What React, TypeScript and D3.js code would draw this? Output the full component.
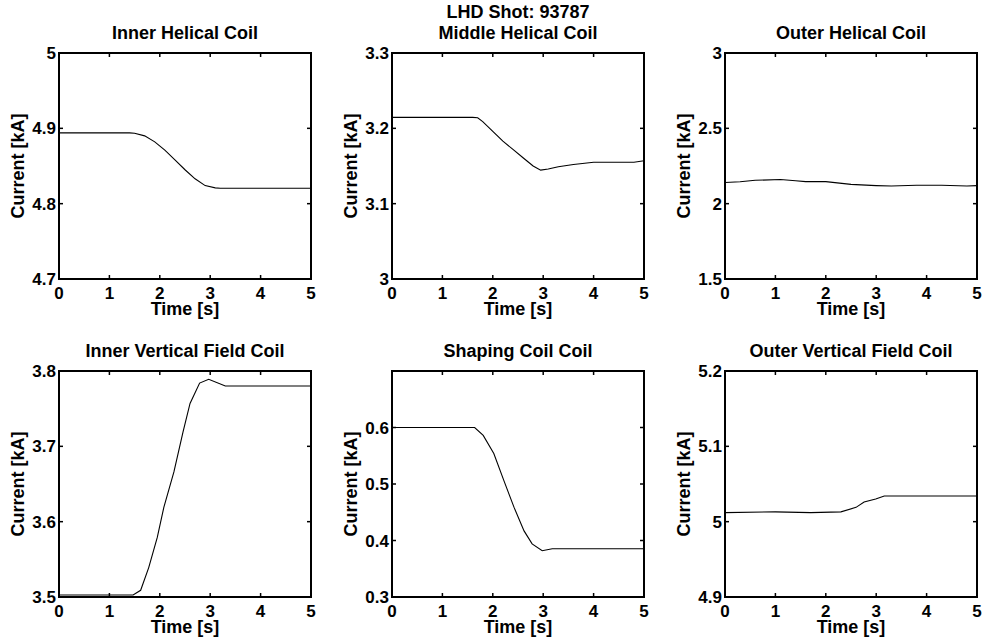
import React from "react"
import * as d3 from "d3"

const suptitle = "LHD Shot: 93787"
const timeTicks = [0, 1, 2, 3, 4, 5]

// Inner Helical Coil
const ihcTime = [0, 1.4, 1.5, 1.7, 1.9, 2.1, 2.3, 2.5, 2.7, 2.9, 3.1, 3.2, 5]
const ihcValues = [4.894, 4.894, 4.8935, 4.89, 4.882, 4.871, 4.858, 4.845, 4.833, 4.824, 4.821, 4.8205, 4.8205]

// Middle Helical Coil
const mhcTime = [0, 1.6, 1.7, 1.8, 2, 2.2, 2.4, 2.6, 2.8, 2.95, 3.1, 3.3, 3.6, 4, 4.5, 4.8, 5]
const mhcValues = [3.2145, 3.2145, 3.214, 3.209, 3.196, 3.183, 3.172, 3.161, 3.15, 3.1445, 3.146, 3.149, 3.152, 3.155, 3.155, 3.155, 3.157]

// Outer Helical Coil
const ohcTime = [0, 0.3, 0.6, 1.1, 1.4, 1.6, 2, 2.5, 3, 3.3, 3.8, 4.3, 4.8, 5]
const ohcValues = [2.14, 2.145, 2.155, 2.16, 2.152, 2.146, 2.146, 2.128, 2.12, 2.117, 2.122, 2.122, 2.117, 2.12]

// Inner Vertical Field Coil
const ivfTime = [0, 1.47, 1.62, 1.78, 1.95, 2.08, 2.28, 2.46, 2.6, 2.79, 2.97, 3.3, 5]
const ivfValues = [3.5027, 3.5027, 3.5089, 3.539, 3.579, 3.619, 3.666, 3.719, 3.757, 3.784, 3.789, 3.78, 3.78]

// Shaping Coil Coil
const scTime = [0, 1.64, 1.81, 2.02, 2.22, 2.42, 2.62, 2.78, 2.98, 3.18, 5]
const scValues = [0.6, 0.6, 0.586, 0.554, 0.506, 0.459, 0.417, 0.394, 0.382, 0.3855, 0.3855]

// Outer Vertical Field Coil
const ovfTime = [0, 1, 1.7, 2.3, 2.6, 2.76, 2.99, 3.16, 5]
const ovfValues = [5.012, 5.013, 5.012, 5.013, 5.019, 5.026, 5.03, 5.034, 5.034]

const titles = ["Inner Helical Coil", "Middle Helical Coil", "Outer Helical Coil",
  "Inner Vertical Field Coil", "Shaping Coil Coil", "Outer Vertical Field Coil"]
const yDomains = [[4.7, 5], [3, 3.3], [1.5, 3], [3.5, 3.8], [0.3, 0.7], [4.9, 5.2]]
const yTicks = [
  [4.7, 4.8, 4.9, 5],
  [3, 3.1, 3.2, 3.3],
  [1.5, 2, 2.5, 3],
  [3.5, 3.6, 3.7, 3.8],
  [0.3, 0.4, 0.5, 0.6],
  [4.9, 5, 5.1, 5.2],
]
const times = [ihcTime, mhcTime, ohcTime, ivfTime, scTime, ovfTime]
const values = [ihcValues, mhcValues, ohcValues, ivfValues, scValues, ovfValues]

const colLeft = [59, 392, 725]
const rowTop = [53, 371]
const plotW = 252
const plotH = 226
const font = "'Liberation Sans', Arial, Helvetica, sans-serif"

function Panel({ i }: { i: number }) {
  const left = colLeft[i % 3]
  const top = rowTop[Math.floor(i / 3)]
  const x = d3.scaleLinear().domain([0, 5]).range([left, left + plotW])
  const y = d3.scaleLinear().domain(yDomains[i]).range([top + plotH, top])
  const pts = times[i].map((t, k) => [t, values[i][k]] as [number, number])
  const line = d3.line<[number, number]>().x(d => x(d[0])).y(d => y(d[1]))
  const fmt = (v: number) => String(+v.toFixed(2))
  const tl = 4

  return (
    <g>
      <path d={line(pts) ?? ""} fill="none" stroke="#000" strokeWidth={1.1} />
      {timeTicks.map(t => (
        <g key={"x" + t}>
          <line x1={x(t)} x2={x(t)} y1={top + plotH} y2={top + plotH - tl} stroke="#000" strokeWidth={1.5} />
          <line x1={x(t)} x2={x(t)} y1={top} y2={top + tl} stroke="#000" strokeWidth={1.5} />
          <text x={x(t)} y={top + plotH + 20} textAnchor="middle" fontSize={17} fontWeight="bold">{t}</text>
        </g>
      ))}
      {yTicks[i].map(v => (
        <g key={"y" + v}>
          <line x1={left} x2={left + tl} y1={y(v)} y2={y(v)} stroke="#000" strokeWidth={1.5} />
          <line x1={left + plotW} x2={left + plotW - tl} y1={y(v)} y2={y(v)} stroke="#000" strokeWidth={1.5} />
          <text x={left - 3} y={y(v)} dy="0.36em" textAnchor="end" fontSize={17} fontWeight="bold">{fmt(v)}</text>
        </g>
      ))}
      <rect x={left} y={top} width={plotW} height={plotH} fill="none" stroke="#000" strokeWidth={2} />
      <text x={left + plotW / 2} y={top + plotH + 36} textAnchor="middle" fontSize={18} fontWeight="bold">Time [s]</text>
      <text transform={`translate(${left - 41},${top + plotH / 2}) rotate(-90)`} dy="0.36em"
        textAnchor="middle" fontSize={18} fontWeight="bold">Current [kA]</text>
      <text x={left + plotW / 2} y={top - 14} textAnchor="middle" fontSize={18} fontWeight="bold">{titles[i]}</text>
    </g>
  )
}

export default function App() {
  return (
    <svg width={984} height={640} style={{ position: "absolute", left: 0, top: 0, background: "#fff" }}
      fontFamily={font}>
      <rect width={984} height={640} fill="#fff" />
      <text x={colLeft[1] + plotW / 2} y={18} textAnchor="middle" fontSize={18} fontWeight="bold">{suptitle}</text>
      {titles.map((_, i) => <Panel key={i} i={i} />)}
    </svg>
  )
}
